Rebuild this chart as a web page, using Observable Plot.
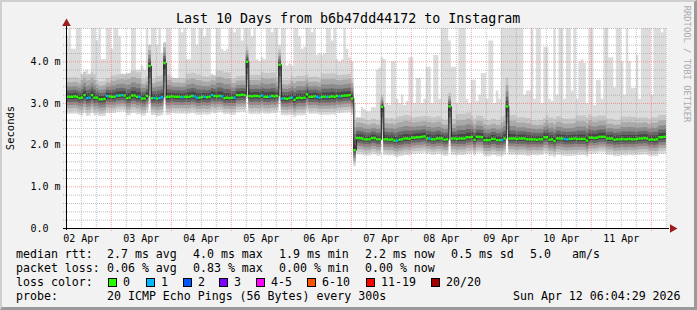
<!DOCTYPE html>
<html><head><meta charset="utf-8">
<script src="https://cdn.jsdelivr.net/npm/d3@7"></script>
<script src="https://cdn.jsdelivr.net/npm/@observablehq/plot@0.6"></script>
<style>
html,body{margin:0;padding:0;background:#fff;}
#wrap{position:relative;width:697px;height:310px;background:#f2f2f2;overflow:hidden;font-family:"DejaVu Sans Mono",monospace;color:#000;}
#wrap svg{position:absolute;left:0;top:0;}
.t{position:absolute;white-space:pre;font-size:11.6px;line-height:14px;}
.box{position:absolute;width:7px;height:7px;border:1px solid #000;}
#border{position:absolute;left:0;top:0;width:697px;height:310px;box-sizing:border-box;border-top:2px solid #cfcfcf;border-left:2px solid #cfcfcf;border-right:3px solid #9a9a9a;border-bottom:3px solid #9a9a9a;}
</style></head><body><div id="wrap"></div>
<script>
// ---------- data ----------
const graphTitle = "Last 10 Days from b6b47dd44172 to Instagram";
const yAxisTitle = "Seconds";
const watermark = "RRDTOOL / TOBI OETIKER";
const startTime = new Date(2026, 3, 2, 6, 4, 29);
const endTime = new Date(2026, 3, 12, 6, 4, 29);
const firstBucket = new Date(2026, 3, 2, 6, 0, 0);
const HOUR = 3600e3;

// hourly median RTT (ms)
const median = [
  3.16,3.16,3.16,3.17,3.16,3.13,3.14,3.20,3.13,3.14,3.20,3.14,3.14,3.10,3.10,3.11,3.18,3.17,3.16,3.16,3.19,3.19,3.20,3.19,
  3.13,3.14,3.19,3.19,3.16,3.16,3.12,3.12,3.18,3.90,3.13,3.13,3.12,3.13,3.15,3.97,3.16,3.16,3.17,3.16,3.16,3.16,3.15,3.16,
  3.16,3.16,3.18,3.17,3.14,3.14,3.16,3.16,3.15,3.16,3.20,3.18,3.17,3.18,3.17,3.13,3.14,3.13,3.14,3.14,3.20,3.20,3.21,3.20,
  4.00,3.18,3.17,3.18,3.18,3.17,3.19,3.16,3.16,3.16,3.18,3.17,3.18,3.93,3.12,3.12,3.11,3.13,3.14,3.09,3.13,3.14,3.13,3.14,
  3.22,3.16,3.16,3.17,3.16,3.14,3.16,3.16,3.16,3.16,3.17,3.16,3.18,3.17,3.18,3.19,3.19,3.20,3.12,1.88,2.17,2.17,2.16,2.14,
  2.14,2.14,2.17,2.17,2.14,2.14,2.92,2.14,2.14,2.13,2.14,2.11,2.11,2.13,2.14,2.16,2.16,2.15,2.18,2.18,2.19,2.19,2.20,2.21,
  2.16,2.16,2.14,2.14,2.16,2.16,2.16,2.13,2.14,2.93,2.16,2.16,2.15,2.16,2.16,2.16,2.19,2.19,2.20,2.13,2.20,2.20,2.19,2.12,
  2.12,2.12,2.15,2.15,2.12,2.12,2.12,2.16,2.93,2.16,2.16,2.16,2.15,2.16,2.16,2.16,2.14,2.14,2.14,2.14,2.13,2.14,2.14,2.19,
  2.19,2.13,2.14,2.10,2.16,2.16,2.16,2.15,2.14,2.15,2.15,2.16,2.15,2.15,2.15,2.15,2.11,2.18,2.18,2.17,2.18,2.20,2.20,2.20,
  2.16,2.16,2.16,2.13,2.14,2.14,2.15,2.14,2.14,2.15,2.14,2.14,2.15,2.16,2.16,2.17,2.16,2.13,2.14,2.13,2.14,2.19,2.19,2.20
];
// hourly highest ping (ms); values above the chart top are clipped
const maxPing = [
  4.6,5,4.3,4.3,5,5,3.7,3.7,3.8,3.7,5,5,4.5,5,4.05,4.05,5,5,4.3,5,5,4.6,3.6,3.6,
  3.7,3.6,5,5,3.8,3.8,3.9,3.8,5,4.25,5,5,4.4,5,4.2,4.3,5,5,3.55,3.6,3.55,5,4.7,5,
  4.05,4.05,5,5,4.4,5,5,4.6,5,5,3.7,3.65,5,5,4.3,4.25,4.3,5,5,4.7,5,5,4.5,5,
  5,5,4.6,5,4.05,4.0,4.1,4.05,5,5,4.7,5,5,4.4,5,5,3.9,3.95,3.9,5,5,4.6,4.3,4.35,
  5,5,4.7,5,4.15,4.2,4.15,4.2,5,5,4.5,5,4.05,4.0,4.05,5,4.3,4.1,4.0,3.0,2.6,2.55,2.9,2.85,
  2.8,2.8,2.9,2.9,3.8,3.85,4.1,4.05,3.0,2.95,4.0,4.0,3.1,3.0,3.2,2.95,3.05,4.1,4.1,3.0,3.6,3.6,3.0,3.1,
  3.87,3.87,3.0,4.15,4.15,3.1,5,5,5,4.5,3.87,3.87,3.0,5,5,5,3.1,3.0,3.56,3.56,3.05,3.2,3.72,3.72,
  3.1,4.5,4.5,3.0,3.3,3.1,5,5,5,5,5,5,5,5,5,3.2,3.3,3.3,5,3.1,5,5,3.0,4.35,
  4.35,3.1,3.05,5,3.2,5,5,3.1,5,5,3.3,5,3.1,4.0,4.05,3.96,3.0,5,5,2.95,3.56,3.56,3.1,5,
  5,4.1,4.1,3.37,5,5,4.0,3.2,5,4.0,3.36,3.36,4.15,3.1,5,5,5,5,3.2,5,5,5,4.7,5
];
// 6-hour blocks: distance from median down to the lowest ping, and up to the 90th percentile
const lowSpread = [0.42,0.44,0.42,0.40,0.43,0.42,0.44,0.41,0.42,0.43,0.40,0.42,0.44,0.42,0.41,0.43,0.42,0.44,0.42,0.40,
                   0.40,0.39,0.41,0.40,0.38,0.40,0.41,0.39,0.40,0.40,0.41,0.39,0.40,0.42,0.40,0.39,0.41,0.40,0.40,0.41];
const highSpread = [0.45,0.55,0.42,0.50,0.58,0.46,0.52,0.44,0.55,0.48,0.60,0.45,0.50,0.56,0.44,0.52,0.47,0.55,0.50,0.48,
                    0.45,0.50,0.55,0.48,0.52,0.46,0.58,0.50,0.47,0.55,0.50,0.45,0.52,0.48,0.55,0.50,0.46,0.53,0.49,0.52];
// hours where the ping distribution jumped (own low / high bounds)
const spikeHours = [33, 39, 72, 85, 115, 126, 153, 176];
const spikeLow   = [3.00, 3.05, 3.10, 3.05, 1.48, 2.10, 2.10, 2.10];
const spikeHigh  = [4.40, 4.45, 4.35, 4.30, 2.60, 3.20, 3.25, 3.60];
// hours with 1 of 20 packets lost
const lossOneHours = [8,9,16,20,22,29,35,37,38,46,51,52,55,58,62,67,78,81,86,90,100,101,104,109,132,145,174,199,200];

const lossLabels = ["0","1","2","3","4-5","6-10","11-19","20/20"];
const lossColors = ["#26ff00","#00b8ff","#0059ff","#7e00ff","#ff00ff","#ff5500","#ff0000","#a00000"];
const yTicks = [0, 1, 2, 3, 4];
const statRows = [
  ["median rtt:", "2.7 ms avg", "4.0 ms max", "1.9 ms min", "2.2 ms now", "0.5 ms sd", "5.0", "am/s"],
  ["packet loss:", "0.06 % avg", "0.83 % max", "0.00 % min", "0.00 % now"]
];
const lossTitle = "loss color:";
const probeRow = ["probe:", "20 ICMP Echo Pings (56 Bytes) every 300s", "Sun Apr 12 06:04:29 2026"];

// ---------- build ----------
const cols = median.map((m, i) => {
  const b = Math.floor(i / 6);
  const s = spikeHours.indexOf(i);
  const lo = s >= 0 ? spikeLow[s] : m - lowSpread[b];
  const hi = s >= 0 ? spikeHigh[s] : m + highSpread[b];
  return {
    t0: new Date(+firstBucket + i * HOUR), t1: new Date(+firstBucket + (i + 1) * HOUR),
    med: m, lo, hi, max: Math.max(maxPing[i], hi), loss: lossOneHours.includes(i) ? 1 : 0
  };
});
const last = cols[cols.length - 1];
const steps = [...cols, {...last, t0: last.t1}];

// smoke layers: fraction of the way from median to low / high bound
const layerFrac = [[0.85, 1.0], [0.68, 0.75], [0.5, 0.52], [0.33, 0.33], [0.17, 0.17]];
const layerGray = ["#c6c6c6", "#a9a9a9", "#8a8a8a", "#686868", "#454545"];

const minorX = d3.timeHour.every(6).range(startTime, endTime).filter(d => d.getHours() !== 0);
const majorX = d3.timeDay.range(startTime, endTime);
const labelX = majorX.map(d => d3.timeHour.offset(d, -12));
const minorY = d3.range(1, 25).map(k => +(k * 0.2).toFixed(1)).filter(v => v % 1 !== 0);

const smokeMarks = [
  Plot.areaY(steps, {x: "t0", y1: "lo", y2: "max", curve: "step-after", fill: "#dcdcdc", clip: true}),
  ...layerFrac.map(([fl, fh], k) => Plot.areaY(steps, {
    x: "t0", y1: d => d.med - fl * (d.med - d.lo), y2: d => d.med + fh * (d.hi - d.med),
    curve: "step-after", fill: layerGray[k], clip: true
  }))
];

const chart = Plot.plot({
  width: 697, height: 310,
  marginLeft: 66, marginRight: 31, marginTop: 28, marginBottom: 82,
  style: {background: "transparent", fontFamily: "DejaVu Sans Mono", color: "#000", overflow: "visible"},
  x: {type: "time", domain: [startTime, endTime]},
  y: {domain: [0, 4.8]},
  marks: [
    Plot.frame({fill: "#ffffff", stroke: "none"}),
    ...smokeMarks,
    Plot.ruleY(minorY, {stroke: "#9a9a9a", strokeOpacity: 0.6, strokeDasharray: "1,1", insetLeft: -3}),
    Plot.ruleX(minorX, {stroke: "#9a9a9a", strokeOpacity: 0.6, strokeDasharray: "1,1"}),
    Plot.ruleY(yTicks.slice(1), {stroke: "#ff6060", strokeOpacity: 0.6, strokeDasharray: "1,1", insetLeft: -3}),
    Plot.ruleX(majorX, {stroke: "#ff6060", strokeOpacity: 0.6, strokeDasharray: "1,1", insetBottom: -3}),
    Plot.line(steps, {x: "t0", y: "med", curve: "step-after", stroke: "#202020", strokeWidth: 1, clip: true}),
    ...lossColors.map((c, k) => Plot.ruleY(cols.filter(d => d.loss === k), {y: "med", x1: "t0", x2: "t1", stroke: c, strokeWidth: 2.4, clip: true})),
    Plot.ruleY([0], {stroke: "#000", insetLeft: -3, insetRight: -3}),
    Plot.ruleX([startTime], {stroke: "#000", insetTop: -3, insetBottom: -2}),
    Plot.dot([{x: endTime, y: 0}], {x: "x", y: "y", symbol: "triangle", r: 3.2, rotate: 90, dx: 6, fill: "#9a1e1e", stroke: "none"}),
    Plot.dot([{x: startTime, y: 4.8}], {x: "x", y: "y", symbol: "triangle", r: 3.2, dy: -5, fill: "#9a1e1e", stroke: "none"}),
    Plot.axisY(yTicks, {tickSize: 0, tickPadding: 0, textAnchor: "start", dx: -36, fontSize: 10, label: null,
      tickFormat: d => d === 0 ? "0.0" : `${d.toFixed(1)} m`}),
    Plot.axisX(labelX, {tickSize: 0, tickPadding: 6, fontSize: 10, label: null, tickFormat: d3.timeFormat("%d %b")})
  ]
});

const wrap = document.getElementById("wrap");
wrap.appendChild(chart);

function addText(str, left, top, extra = {}) {
  const el = document.createElement("div");
  el.className = "t";
  el.textContent = str;
  el.style.left = left + "px";
  el.style.top = top + "px";
  Object.assign(el.style, extra);
  wrap.appendChild(el);
  return el;
}
// title
addText(graphTitle, 176, 11, {fontSize: "13.3px", lineHeight: "16px"});
// y axis title (rotated)
addText(yAxisTitle, -40, 121, {width: "100px", textAlign: "center", fontSize: "10.5px", transform: "rotate(-90deg)"});
// watermark
addText(watermark, 616.5, 58.5, {width: "140px", textAlign: "center", fontSize: "8.8px", lineHeight: "10px", color: "#acacac", transform: "rotate(90deg)"});

// legend
const statX = [16, 107, 193, 279, 365, 451, 530, 572];
const rowTop = [247, 261, 275, 289];
statRows.forEach((row, r) => row.forEach((s, k) => addText(s, statX[k], rowTop[r])));
addText(lossTitle, 16, rowTop[2]);
const boxX = [108, 146, 183, 219, 256, 307, 366, 431];
lossLabels.forEach((lab, k) => {
  const b = document.createElement("div");
  b.className = "box";
  b.style.left = boxX[k] + "px";
  b.style.top = "278px";
  b.style.background = lossColors[k];
  wrap.appendChild(b);
  addText(lab, boxX[k] + 15, rowTop[2]);
});
addText(probeRow[0], 16, rowTop[3]);
addText(probeRow[1], 107, rowTop[3]);
addText(probeRow[2], 513, rowTop[3]);

const border = document.createElement("div");
border.id = "border";
wrap.appendChild(border);
</script>
</body></html>
